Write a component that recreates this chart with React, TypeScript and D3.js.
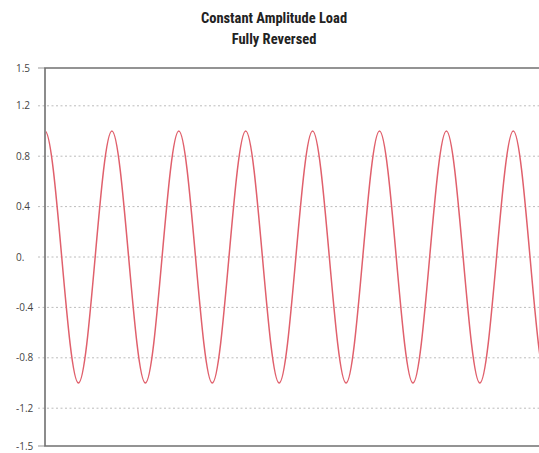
import React, { useEffect, useRef } from "react";
import * as d3 from "d3";

// load history, key points (one cycle = 1 unit of time)
const timePoints = [
  -0.25, 0, 0.25, 0.5, 0.75, 1, 1.25, 1.5, 1.75, 2, 2.25, 2.5, 2.75, 3, 3.25, 3.5, 3.75,
  4, 4.25, 4.5, 4.75, 5, 5.25, 5.5, 5.75, 6, 6.25, 6.5, 6.75, 7, 7.25, 7.5, 7.75,
];
const loadValues = [
  0, 1, 0, -1, 0, 1, 0, -1, 0, 1, 0, -1, 0, 1, 0, -1, 0,
  1, 0, -1, 0, 1, 0, -1, 0, 1, 0, -1, 0, 1, 0, -1, 0,
];
const yTicks = [1.5, 1.2, 0.8, 0.4, 0, -0.4, -0.8, -1.2, -1.5];
const yTickLabels = ["1.5", "1.2", "0.8", "0.4", "0.", "-0.4", "-0.8", "-1.2", "-1.5"];
const gridTicks = [1.2, 0.8, 0.4, 0, -0.4, -0.8, -1.2];
const titleLines = ["Constant Amplitude Load", "Fully Reversed"];

const App = () => {
  const svgRef = useRef<SVGSVGElement>(null);

  useEffect(() => {
    document.body.style.margin = "0";
    const width = 539;
    const height = 453;
    const marginLeft = 45;
    const marginTop = 68;
    const plotBottom = 446;
    const plotRight = 560;

    const x = d3.scaleLinear().domain([0, 7.5]).range([marginLeft, marginLeft + 7.5 * 66.9]);
    const y = d3.scaleLinear().domain([-1.5, 1.5]).range([plotBottom, marginTop]);

    const svg = d3.select(svgRef.current);
    svg.selectAll("*").remove();
    svg.attr("width", width).attr("height", height).attr("viewBox", [0, 0, width, height]);

    svg.append("rect").attr("width", width).attr("height", height).attr("fill", "#fff");

    // title
    svg.append("g")
      .selectAll("text")
      .data(titleLines)
      .join("text")
      .attr("x", 274)
      .attr("y", (d, i) => 23 + i * 21)
      .attr("text-anchor", "middle")
      .attr("font-family", "'Liberation Sans Narrow', 'Roboto Condensed', sans-serif")
      .attr("font-weight", "bold")
      .attr("font-size", 14.5)
      .attr("fill", "#222")
      .text((d) => d);

    // dotted grid lines (with the tick stub left of the axis)
    svg.append("g")
      .selectAll("line")
      .data(gridTicks)
      .join("line")
      .attr("x1", marginLeft - 7)
      .attr("x2", plotRight)
      .attr("y1", (d) => y(d))
      .attr("y2", (d) => y(d))
      .attr("stroke", "#bcbcbc")
      .attr("stroke-width", 1)
      .attr("stroke-dasharray", "2,2.5");

    // tick stubs for the extremes
    svg.append("g")
      .selectAll("line")
      .data([1.5, -1.5])
      .join("line")
      .attr("x1", marginLeft - 7)
      .attr("x2", marginLeft)
      .attr("y1", (d) => y(d))
      .attr("y2", (d) => y(d))
      .attr("stroke", "#999")
      .attr("stroke-width", 1);

    // tick labels
    svg.append("g")
      .selectAll("text")
      .data(yTicks)
      .join("text")
      .attr("x", 16)
      .attr("y", (d) => y(d))
      .attr("dy", "0.35em")
      .attr("font-family", "'Open Sans', sans-serif")
      .attr("font-size", 10)
      .attr("fill", "#444")
      .text((d, i) => yTickLabels[i]);

    // plot frame
    svg.append("path")
      .attr("d", `M${plotRight},${marginTop}H${marginLeft}V${plotBottom}H${plotRight}`)
      .attr("fill", "none")
      .attr("stroke", "#707070")
      .attr("stroke-width", 1.6);

    svg.append("defs")
      .append("clipPath")
      .attr("id", "plotClip")
      .append("rect")
      .attr("x", marginLeft + 1)
      .attr("y", marginTop + 1)
      .attr("width", plotRight - marginLeft)
      .attr("height", plotBottom - marginTop - 2);

    const line = d3.line<number>()
      .x((d, i) => x(timePoints[i]))
      .y((d) => y(d))
      .curve(d3.curveNatural);

    svg.append("path")
      .datum(loadValues)
      .attr("clip-path", "url(#plotClip)")
      .attr("d", line)
      .attr("fill", "none")
      .attr("stroke", "#e0606c")
      .attr("stroke-width", 1.5);
  }, []);

  return <svg ref={svgRef} style={{ display: "block" }} />;
};

export default App;
